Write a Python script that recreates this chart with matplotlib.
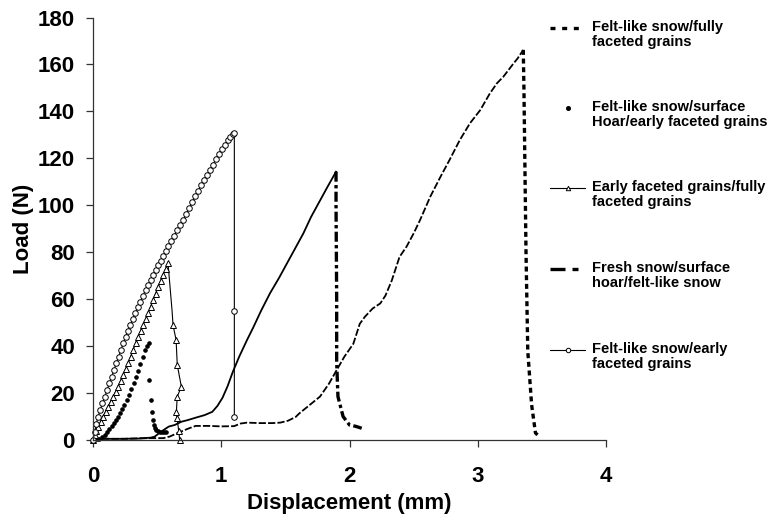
import matplotlib
matplotlib.use("Agg")
import matplotlib.pyplot as plt
from matplotlib.lines import Line2D

plt.rcParams['font.family'] = ['Liberation Sans', 'DejaVu Sans']
plt.rcParams['font.weight'] = 'bold'

# Felt-like snow/fully faceted grains (peak at index of max load)
felt_fully_x = [0.07, 0.15, 0.25, 0.35, 0.45, 0.55, 0.60, 0.66, 0.74, 0.80, 0.90, 1.00, 1.10,
                1.15, 1.20, 1.30, 1.40, 1.46, 1.52, 1.58, 1.61, 1.68, 1.77, 1.84, 1.90, 1.96,
                2.03, 2.08, 2.12, 2.18, 2.24, 2.28, 2.33, 2.39, 2.445, 2.50, 2.55, 2.63, 2.71,
                2.78, 2.86, 2.94, 3.02, 3.095, 3.15, 3.20, 3.28, 3.31, 3.355,
                3.36, 3.376, 3.39, 3.42, 3.45, 3.47]
felt_fully_y = [0.6, 0.5, 0.5, 0.7, 0.8, 0.8, 1.5, 3.0, 4.8, 6.0, 6.0, 5.8, 5.9,
                7.0, 7.4, 7.2, 7.2, 7.4, 8.2, 9.8, 11.4, 14.5, 18.5, 24.0, 29.8, 35.5,
                41.0, 49.5, 52.5, 56.0, 58.2, 61.5, 68.0, 78.0, 82.4, 88.0, 93.7, 103.7, 112.2,
                119.3, 127.8, 135.0, 140.6, 147.7, 152.0, 154.8, 160.5, 162.5, 166.2,
                150.0, 81.0, 38.0, 15.0, 3.0, 2.0]

# Felt-like snow/surface hoar/early faceted grains (dots)
felt_hoar_x = [0.03, 0.05, 0.07, 0.091, 0.11, 0.128, 0.145, 0.162, 0.178, 0.195, 0.212,
               0.228, 0.245, 0.262, 0.28, 0.298, 0.316, 0.335, 0.352, 0.37, 0.388, 0.405,
               0.42, 0.435,
               0.44, 0.455, 0.463, 0.468, 0.475, 0.482, 0.492, 0.505, 0.52, 0.537, 0.555, 0.572]
felt_hoar_y = [0.3, 0.6, 1.2, 2.1, 3.3, 4.6, 5.9, 7.3, 8.6, 9.9, 11.6,
               13.2, 14.9, 17.0, 19.2, 21.6, 24.2, 27.0, 29.5, 32.4, 35.5, 38.3,
               40.0, 41.2,
               25.6, 17.0, 12.0, 8.5, 6.4, 5.0, 4.3, 3.9, 3.6, 3.5, 3.4, 3.3]

# Early faceted grains/fully faceted grains (triangles)
early_fully_x = [0.0, 0.013, 0.026, 0.039, 0.059, 0.078, 0.098, 0.117, 0.137, 0.156, 0.176,
                 0.195, 0.215, 0.234, 0.254, 0.273, 0.293, 0.312, 0.332, 0.351, 0.371, 0.39,
                 0.41, 0.429, 0.449, 0.468, 0.488, 0.507, 0.527, 0.546, 0.566, 0.585,
                 0.616, 0.624, 0.648, 0.657, 0.689, 0.657, 0.65, 0.655, 0.668, 0.676]
early_fully_y = [0.0, 2.0, 3.8, 5.7, 7.8, 10.0, 12.1, 14.2, 16.3, 18.5, 20.6,
                 22.7, 25.2, 27.7, 30.2, 32.7, 35.5, 38.3, 41.2, 44.0, 46.5, 49.0,
                 51.5, 54.0, 56.8, 59.6, 62.4, 65.3, 67.8, 70.3, 72.8, 75.3,
                 55.4, 49.0, 42.6, 32.0, 22.7, 18.5, 12.0, 9.5, 4.0, 0.0]
early_fully_nomark = [32]

# Fresh snow/surface hoar/felt-like snow
fresh_x = [0.05, 0.20, 0.35, 0.45, 0.48, 0.53, 0.59, 0.637, 0.69, 0.74, 0.80, 0.87, 0.93,
           0.97, 1.01, 1.05, 1.09, 1.14, 1.20, 1.25, 1.31, 1.38, 1.45, 1.51, 1.58, 1.64, 1.70,
           1.77, 1.83, 1.895,
           1.895, 1.90, 1.90, 1.91, 1.95, 2.00, 2.05, 2.095]
fresh_y = [0.5, 0.5, 0.6, 1.0, 1.4, 3.5, 5.7, 6.4, 7.8, 8.5, 9.5, 10.6, 12.0,
           14.5, 18.0, 23.0, 29.0, 35.5, 42.5, 48.0, 55.0, 62.5, 69.0, 75.0, 82.0, 88.0, 95.0,
           102.0, 108.0, 114.3,
           100.0, 60.0, 33.0, 18.5, 10.0, 6.4, 5.8, 5.0]

# Felt-like snow/early faceted grains (circles)
felt_early_x = [0.0, 0.013, 0.026, 0.039, 0.056, 0.074, 0.092, 0.11, 0.128, 0.146, 0.164,
                0.182, 0.2, 0.218, 0.236, 0.254, 0.273, 0.292, 0.311, 0.331, 0.351, 0.37,
                0.39, 0.41, 0.429, 0.449, 0.468, 0.488, 0.507, 0.527, 0.547, 0.567, 0.587,
                0.61, 0.633, 0.656, 0.68, 0.704, 0.727, 0.75, 0.774, 0.797, 0.82, 0.843,
                0.866, 0.889, 0.912, 0.935, 0.958, 0.981, 1.004, 1.027, 1.05, 1.072, 1.09,
                1.102, 1.102, 1.102]
felt_early_y = [0.0, 3.6, 6.8, 9.9, 12.7, 15.6, 18.4, 21.3, 24.2, 27.0, 29.9,
                32.7, 35.5, 38.3, 41.2, 44.0, 46.5, 49.0, 51.5, 54.0, 56.5, 59.0,
                61.5, 63.9, 66.1, 68.2, 70.3, 72.4, 74.4, 76.4, 78.4, 80.5, 82.6,
                84.9, 87.1, 89.3, 91.5, 93.7, 96.2, 98.7, 101.2, 103.8, 106.2, 108.5,
                110.7, 112.9, 115.0, 117.3, 119.6, 121.8, 124.0, 125.8, 127.6, 129.3, 130.4,
                131.0, 55.0, 10.0]

legend_labels = ["Felt-like snow/fully\nfaceted grains",
                 "Felt-like snow/surface\nHoar/early faceted grains",
                 "Early faceted grains/fully\nfaceted grains",
                 "Fresh snow/surface\nhoar/felt-like snow",
                 "Felt-like snow/early\nfaceted grains"]

W, H = 782, 520
fig = plt.figure(figsize=(W / 100, H / 100), dpi=100)
ax = fig.add_axes([93 / W, 1 - 440 / H, (606 - 93) / W, (440 - 17.5) / H])

k = felt_fully_y.index(max(felt_fully_y))
ax.plot(felt_fully_x[:k + 1], felt_fully_y[:k + 1], color='black', lw=1.3,
        dashes=(4, 1.2), clip_on=False)
ax.plot(felt_fully_x[k:], felt_fully_y[k:], color='black', lw=2.4,
        dashes=(1.5, 1.1), clip_on=False)

ax.plot(felt_hoar_x, felt_hoar_y, ls='none', marker='o', ms=2.3, color='black', clip_on=False)

marks = [i for i in range(len(early_fully_x)) if i not in early_fully_nomark]
ax.plot(early_fully_x, early_fully_y, color='black', lw=0.8, marker='^', ms=4.3,
        mfc='white', mec='black', mew=0.7, markevery=marks, clip_on=False)

j = fresh_y.index(max(fresh_y))
ax.plot(fresh_x[:j + 1], fresh_y[:j + 1], color='black', lw=1.3, clip_on=False)
ax.plot(fresh_x[j:], fresh_y[j:], color='black', lw=2.4,
        dashes=(3, 1, 1, 1), clip_on=False)

ax.plot(felt_early_x, felt_early_y, color='black', lw=0.8, marker='o', ms=4.0,
        mfc='white', mec='black', mew=0.7, clip_on=False)

ax.set_xlim(0, 4)
ax.set_ylim(0, 180)
ax.set_xticks(range(0, 5))
ax.set_yticks(range(0, 181, 20))
for s in ['top', 'right']:
    ax.spines[s].set_visible(False)
for s in ['left', 'bottom']:
    ax.spines[s].set_color('#333333')
    ax.spines[s].set_linewidth(0.9)
ax.tick_params(axis='both', direction='out', length=5, width=0.9, color='#333333',
               labelsize=16)
ax.tick_params(axis='x', pad=14)
ax.tick_params(axis='y', pad=8)
for t in ax.get_xticklabels() + ax.get_yticklabels():
    t.set_fontweight('bold')
ax.set_xlabel("Displacement (mm)", fontsize=16, fontweight='bold', labelpad=4)
ax.set_ylabel("Load (N)", fontsize=16, fontweight='bold', labelpad=3)

# legend drawn by hand so the key sits on the first text line
def fx(px):
    return px / W

def fy(py):
    return 1 - py / H

rows = [28, 108, 188, 269, 350]
keys = [
    dict(lw=2.4, dashes=(1.5, 2.0)),
    None,
    dict(lw=0.8, marker='^'),
    dict(lw=2.4, dashes=(4.5, 2.1, 1.8, 10)),
    dict(lw=0.8, marker='o'),
]
for row, key, label in zip(rows, keys, legend_labels):
    if key is None:
        fig.add_artist(Line2D([fx(568)], [fy(row)], ls='none', marker='o', ms=2.6,
                              color='black', transform=fig.transFigure))
    elif 'marker' in key:
        fig.add_artist(Line2D([fx(550), fx(585)], [fy(row), fy(row)], color='black',
                              lw=key['lw'], transform=fig.transFigure))
        fig.add_artist(Line2D([fx(568)], [fy(row)], ls='none', marker=key['marker'],
                              ms=3.2, mfc='white', mec='black', mew=0.7,
                              transform=fig.transFigure))
    else:
        fig.add_artist(Line2D([fx(550), fx(580)], [fy(row), fy(row)], color='black',
                              lw=key['lw'], dashes=key['dashes'],
                              transform=fig.transFigure))
    fig.text(fx(592), fy(row - 8), label, fontsize=10.5, fontweight='bold',
             va='top', ha='left', linespacing=1.05)

fig.savefig("out.png", dpi=100)
